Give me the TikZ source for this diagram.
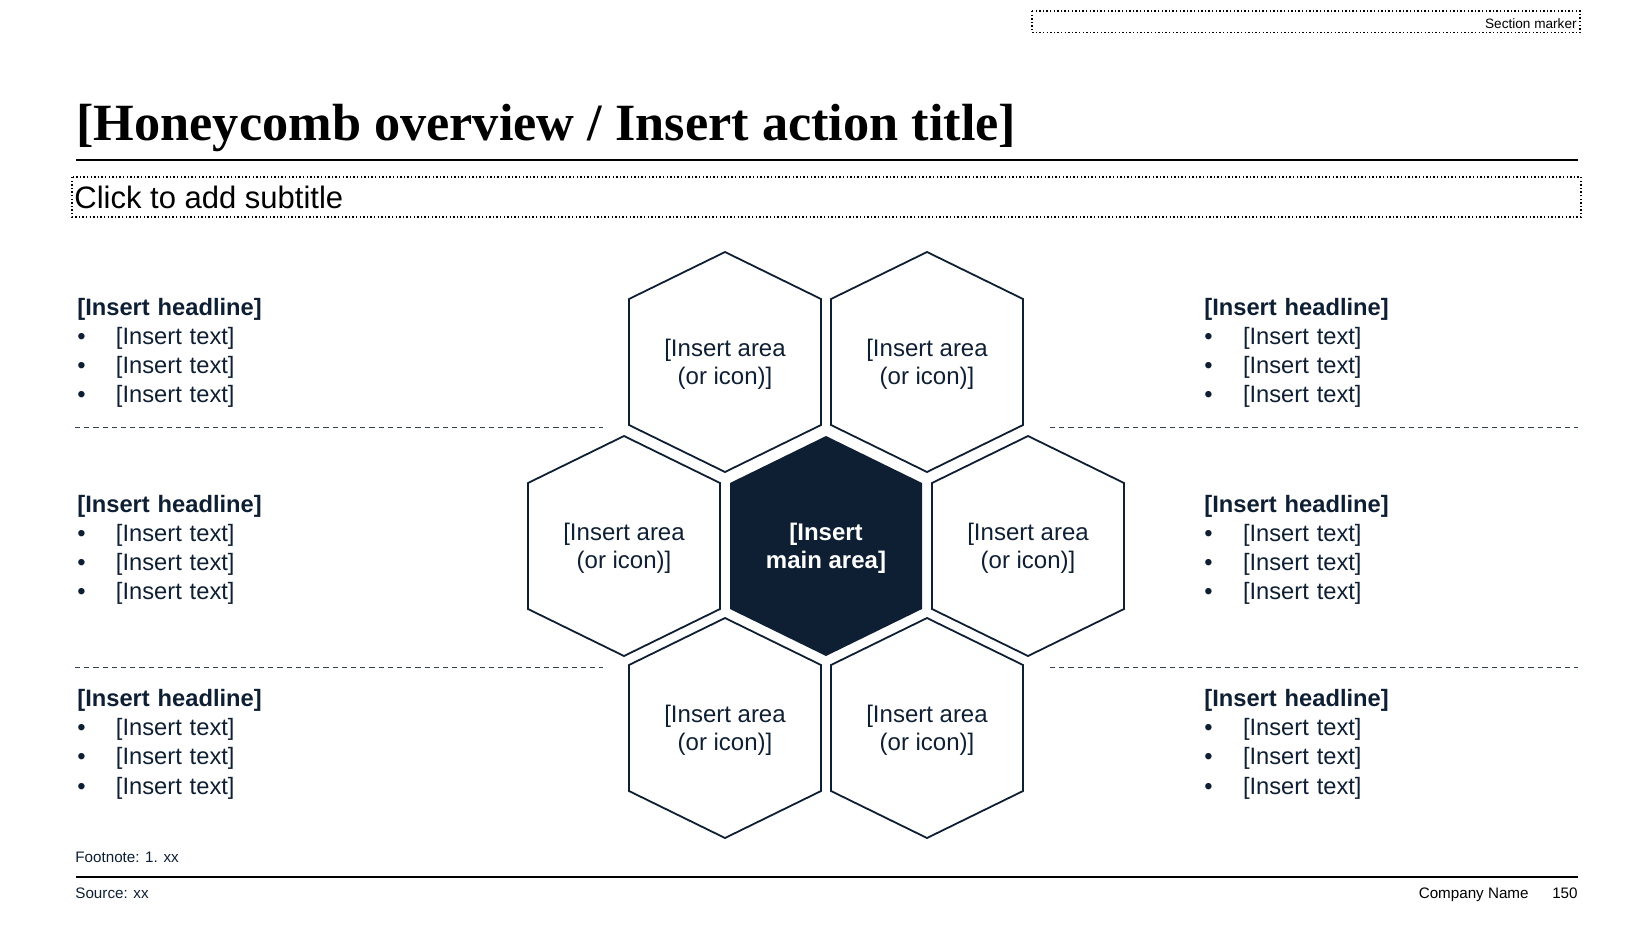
\documentclass[tikz,border=0pt]{standalone}
\usepackage{fontspec}
\setmainfont{Liberation Sans}
\newfontfamily\titlefont{Liberation Serif}
\usetikzlibrary{positioning}
\definecolor{navy}{HTML}{0F1F33}
\tikzstyle{hexline} = [draw=navy, line width=0.9pt, line join=miter]
\tikzstyle{hexmain} = [fill=navy]
\tikzstyle{area} = [align=center, yshift=-1.3pt, text=navy, font=\fontsize{12}{13.9}\selectfont]
\tikzstyle{mainarea} = [align=center, yshift=-1.3pt, text=white, font=\fontsize{12}{13.9}\selectfont\bfseries]
\tikzstyle{block} = [anchor=base west, inner sep=0pt, text width=250pt, align=left, text=navy, font=\fontsize{11.85}{14.6}\selectfont]
\tikzstyle{sep} = [draw=navy!85, line width=0.5pt, dash pattern=on 2.6pt off 2pt]
\tikzstyle{dotbox} = [draw=black, line width=0.7pt, dash pattern=on 0.7pt off 1.1pt]
\tikzstyle{small} = [inner sep=0pt, text=navy, font=\fontsize{7.6}{9}\selectfont]
\newcommand{\bul}{\makebox[19.3pt][l]{\textbullet}}
\newcommand{\blocktext}{\textbf{[Insert headline]}\\\bul[Insert text]\\\bul[Insert text]\\\bul[Insert text]}

\begin{document}
\begin{tikzpicture}[x=0.5pt, y=-0.5pt]
    \useasboundingbox (0,0) rectangle (1652,926);

    \draw [dotbox] (1032,11) rectangle (1580,32.5);
    \node [small, anchor=base east, font=\fontsize{6.8}{8}\selectfont, text=black] at (1577,28.5) (marker) {Section marker};

    \node [anchor=base west, inner sep=0pt, font=\titlefont\bfseries\fontsize{26.15}{30}\selectfont] at (76,140) (title) {[Honeycomb overview / Insert action title]};
    \draw [line width=0.6pt] (76,160) -- (1578,160);
    \draw [dotbox] (72,177) rectangle (1581,217);
    \node [anchor=base west, inner sep=0pt, font=\fontsize{15.5}{18}\selectfont] at (74,208.5) (subtitle) {Click to add subtitle};

    \coordinate (hex1) at (725,362);
    \coordinate (hex2) at (927,362);
    \coordinate (hex3) at (624,546);
    \coordinate (hex4) at (826,546);
    \coordinate (hex5) at (1028,546);
    \coordinate (hex6) at (725,728);
    \coordinate (hex7) at (927,728);

    \fill [hexmain] (hex4) ++(0,-110) -- ++(96,47) -- ++(0,126) -- ++(-96,47) -- ++(-96,-47) -- ++(0,-126) -- cycle;
    \foreach \h in {hex1,hex2,hex3,hex5,hex6,hex7}
        \draw [hexline] (\h) ++(0,-110) -- ++(96,47) -- ++(0,126) -- ++(-96,47) -- ++(-96,-47) -- ++(0,-126) -- cycle;

    \node [area] at (hex1) (area1) {[Insert area\\(or icon)]};
    \node [area] at (hex2) (area2) {[Insert area\\(or icon)]};
    \node [area] at (hex3) (area3) {[Insert area\\(or icon)]};
    \node [mainarea] at (hex4) (main) {[Insert\\main area]};
    \node [area] at (hex5) (area4) {[Insert area\\(or icon)]};
    \node [area] at (hex6) (area5) {[Insert area\\(or icon)]};
    \node [area] at (hex7) (area6) {[Insert area\\(or icon)]};

    \node [block] at (77,315) (block1) {\blocktext};
    \node [block] at (77,512) (block2) {\blocktext};
    \node [block] at (77,706.5) (block3) {\blocktext};
    \node [block] at (1204,315) (block4) {\blocktext};
    \node [block] at (1204,512) (block5) {\blocktext};
    \node [block] at (1204,706.5) (block6) {\blocktext};

    \draw [sep] (75,427) -- (603,427);
    \draw [sep] (75,667) -- (603,667);
    \draw [sep] (1050,427) -- (1578,427);
    \draw [sep] (1050,667) -- (1578,667);

    \node [small, anchor=base west] at (75,862) (footnote) {Footnote: 1. xx};
    \draw [line width=0.7pt] (76,877) -- (1578,877);
    \node [small, anchor=base west] at (75,898) (source) {Source: xx};
    \node [small, anchor=base east, text=black] at (1529,898) (company) {Company Name};
    \node [small, anchor=base east, text=black] at (1578,898) (page) {150};
\end{tikzpicture}
\end{document}
